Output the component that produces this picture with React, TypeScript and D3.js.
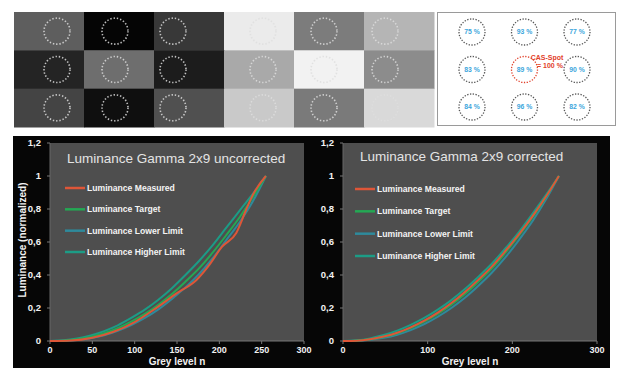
import * as d3 from 'd3';

// top test pattern: grey level of each cell (0-255), three rows of six
const patternRow1 = [94, 5, 56, 235, 124, 181];
const patternRow2 = [36, 110, 28, 169, 242, 140];
const patternRow3 = [68, 15, 80, 201, 122, 217];

// uniformity map (percent of CAS spot)
const uniformityRow1 = [75, 93, 77];
const uniformityRow2 = [83, 89, 90];
const uniformityRow3 = [84, 96, 82];

// luminance curves
const greyLevels = [0, 16, 32, 48, 64, 80, 96, 112, 128, 144, 160, 176, 192, 208, 224, 240, 255];
const targetLum = [0, 0.002, 0.01, 0.025, 0.047, 0.078, 0.117, 0.164, 0.22, 0.285, 0.36, 0.44, 0.535, 0.64, 0.75, 0.875, 1];
const uncorrLower = [0, 0.001, 0.006, 0.017, 0.035, 0.062, 0.097, 0.14, 0.192, 0.255, 0.325, 0.405, 0.5, 0.61, 0.72, 0.85, 1];
const uncorrHigher = [0, 0.004, 0.015, 0.034, 0.06, 0.095, 0.14, 0.19, 0.25, 0.32, 0.4, 0.485, 0.58, 0.685, 0.79, 0.895, 1];
const uncorrMeasuredLevels = [0, 25, 50, 75, 100, 125, 150, 173, 188, 203, 220, 232, 240, 255];
const uncorrMeasured = [0, 0.003, 0.02, 0.056, 0.115, 0.198, 0.29, 0.37, 0.46, 0.57, 0.655, 0.8, 0.89, 1];
const corrMeasured = [0, 0.002, 0.011, 0.027, 0.05, 0.083, 0.123, 0.172, 0.23, 0.297, 0.372, 0.452, 0.547, 0.648, 0.757, 0.877, 1];
const corrLower = [0, 0.001, 0.007, 0.019, 0.038, 0.066, 0.102, 0.147, 0.2, 0.262, 0.335, 0.415, 0.508, 0.613, 0.727, 0.86, 1];
const corrHigher = [0, 0.004, 0.016, 0.036, 0.063, 0.098, 0.14, 0.19, 0.248, 0.315, 0.39, 0.47, 0.562, 0.662, 0.772, 0.887, 1];

const legendNames = ['Luminance Measured', 'Luminance Target', 'Luminance Lower Limit', 'Luminance Higher Limit'];
const yTicks = [0, 0.2, 0.4, 0.6, 0.8, 1, 1.2];
const xTicksLeft = [0, 50, 100, 150, 200, 250, 300];
const xTicksRight = [0, 100, 200, 300];

const COLORS: Record<string, string> = {
  'Luminance Measured': '#de5638',
  'Luminance Target': '#24a854',
  'Luminance Lower Limit': '#2e8a9c',
  'Luminance Higher Limit': '#1c9c86',
};

const FONT = '"Liberation Sans", Arial, sans-serif';

type Pt = [number, number];
const zip = (xs: number[], ys: number[]): Pt[] => xs.map((x, i) => [x, ys[i]]);

interface ChartProps {
  left: number;
  right: number;
  title: string;
  titleY: number;
  xTicks: number[];
  series: { name: string; points: Pt[] }[];
  legendTop: number;
  legendBottom: number;
  legendDx: number;
  showYTitle?: boolean;
}

function GammaChart({ left, right, title, titleY, xTicks, series, legendTop, legendBottom, legendDx, showYTitle }: ChartProps) {
  const top = 143;
  const bottom = 341;
  const x = d3.scaleLinear().domain([0, 300]).range([left, right]);
  const y = d3.scaleLinear().domain([0, 1.2]).range([bottom, top]);
  const line = d3.line<Pt>().x(d => x(d[0])).y(d => y(d[1])).curve(d3.curveMonotoneX);
  const legendY = d3.scalePoint<string>().domain(legendNames).range([legendTop, legendBottom]);
  const drawOrder = ['Luminance Lower Limit', 'Luminance Higher Limit', 'Luminance Target', 'Luminance Measured'];

  return (
    <g fontFamily={FONT}>
      <rect x={left} y={top} width={right - left} height={bottom - top} fill="#4e4e4e" />
      <line x1={left} x2={right} y1={bottom} y2={bottom} stroke="#777" strokeWidth={1} />
      <line x1={left} x2={left} y1={top} y2={bottom} stroke="#666" strokeWidth={1} />
      {yTicks.map(t => (
        <g key={t}>
          <line x1={left - 3} x2={left} y1={y(t)} y2={y(t)} stroke="#777" />
          <text x={left - 9} y={y(t)} dy="0.35em" textAnchor="end" fill="#f2f2f2" fontSize={9.5} fontWeight="bold">
            {String(t).replace('.', ',')}
          </text>
        </g>
      ))}
      {xTicks.map(t => (
        <g key={t}>
          <line x1={x(t)} x2={x(t)} y1={bottom} y2={bottom + 3} stroke="#777" />
          <text x={x(t)} y={353} textAnchor="middle" fill="#f2f2f2" fontSize={9} fontWeight="bold">{t}</text>
        </g>
      ))}
      <text x={(left + right) / 2} y={365} textAnchor="middle" fill="#f2f2f2" fontSize={10} fontWeight="bold">Grey level n</text>
      {showYTitle && (
        <text transform={`translate(26,240) rotate(-90)`} textAnchor="middle" fill="#f2f2f2" fontSize={10} fontWeight="bold">
          Luminance (normalized)
        </text>
      )}
      <text x={left + 17} y={titleY} fill="#e4e4e4" fontSize={13.5}>{title}</text>
      {drawOrder.map(name => {
        const s = series.find(d => d.name === name)!;
        return <path key={name} d={line(s.points) || ''} fill="none" stroke={COLORS[name]} strokeWidth={2} strokeLinejoin="round" />;
      })}
      {legendNames.map(name => (
        <g key={name}>
          <line x1={left + legendDx} x2={left + legendDx + 20} y1={legendY(name)!} y2={legendY(name)!} stroke={COLORS[name]} strokeWidth={2.5} />
          <text x={left + legendDx + 22} y={legendY(name)!} dy="0.35em" fill="#f4f4f4" fontSize={8.6} fontWeight="bold">{name}</text>
        </g>
      ))}
    </g>
  );
}

function Pattern() {
  const rows = [patternRow1, patternRow2, patternRow3];
  const col = d3.scaleBand<number>().domain(d3.range(6)).range([14, 434]);
  const row = d3.scaleBand<number>().domain(d3.range(3)).range([12, 127]);
  const circleA = d3.scalePoint<number>().domain([0, 1, 2]).range([57, 173]);
  const circleB = d3.scalePoint<number>().domain([3, 4, 5]).range([263, 385]);
  const cx = (c: number) => (c < 3 ? circleA(c)! : circleB(c)!);
  return (
    <g>
      {rows.map((r, ri) =>
        r.map((v, ci) => (
          <g key={`${ri}-${ci}`}>
            <rect x={col(ci)} y={row(ri)} width={col.bandwidth() + 0.5} height={row.bandwidth() + 0.5} fill={d3.rgb(v, v, v).formatHex()} />
            <circle cx={cx(ci)} cy={row(ri)! + row.bandwidth() / 2} r={13} fill="none" stroke="#dedede" strokeOpacity={0.85}
              strokeWidth={1.6} strokeDasharray="1.4 1.9" />
          </g>
        ))
      )}
    </g>
  );
}

function Uniformity() {
  const rows = [uniformityRow1, uniformityRow2, uniformityRow3];
  const cx = d3.scalePoint<number>().domain([0, 1, 2]).range([472, 577]);
  const cy = d3.scalePoint<number>().domain([0, 1, 2]).range([32, 107]);
  return (
    <g fontFamily={FONT}>
      <rect x={437.5} y={12.5} width={178} height={113} fill="#fff" stroke="#9a9a9a" strokeWidth={1} />
      {rows.map((r, ri) =>
        r.map((v, ci) => {
          const spot = ri === 1 && ci === 1;
          return (
            <g key={`${ri}-${ci}`}>
              <circle cx={cx(ci)} cy={cy(ri)} r={13} fill="none" stroke={spot ? '#e0402a' : '#555'} strokeWidth={1.3}
                strokeDasharray="1.3 1.5" />
              <text x={cx(ci)} y={cy(ri)} dy="0.35em" textAnchor="middle" fill="#3ca6dc" fontSize={6.8} fontWeight="bold">{v} %</text>
            </g>
          );
        })
      )}
      <text x={547} y={60} textAnchor="middle" fill="#e2402a" fontSize={7} fontWeight="bold">CAS-Spot</text>
      <text x={550} y={68} textAnchor="middle" fill="#e2402a" fontSize={7} fontWeight="bold">= 100 %</text>
    </g>
  );
}

export default function App() {
  const leftSeries = [
    { name: 'Luminance Measured', points: zip(uncorrMeasuredLevels, uncorrMeasured) },
    { name: 'Luminance Target', points: zip(greyLevels, targetLum) },
    { name: 'Luminance Lower Limit', points: zip(greyLevels, uncorrLower) },
    { name: 'Luminance Higher Limit', points: zip(greyLevels, uncorrHigher) },
  ];
  const rightSeries = [
    { name: 'Luminance Measured', points: zip(greyLevels, corrMeasured) },
    { name: 'Luminance Target', points: zip(greyLevels, targetLum) },
    { name: 'Luminance Lower Limit', points: zip(greyLevels, corrLower) },
    { name: 'Luminance Higher Limit', points: zip(greyLevels, corrHigher) },
  ];
  return (
    <svg width={622} height={368} style={{ position: 'absolute', left: 0, top: 0, background: '#fff' }}>
      <Pattern />
      <Uniformity />
      <rect x={13} y={136} width={597} height={232} fill="#060606" />
      <GammaChart left={50} right={304} title="Luminance Gamma 2x9 uncorrected" titleY={163} xTicks={xTicksLeft}
        series={leftSeries} legendTop={188} legendBottom={252} legendDx={15} showYTitle />
      <GammaChart left={343} right={597} title="Luminance Gamma 2x9 corrected" titleY={161} xTicks={xTicksRight}
        series={rightSeries} legendTop={189} legendBottom={256} legendDx={12} />
    </svg>
  );
}
